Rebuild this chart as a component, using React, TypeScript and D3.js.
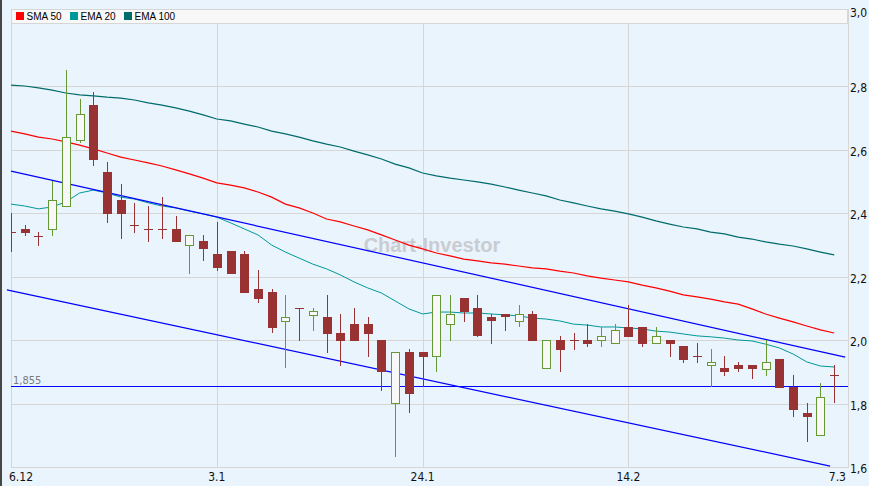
import React from "react";
import * as d3 from "d3";

// ---- data ----
const dateTickIdx = [0, 15, 30, 45, 60];
const dateTickLabels = ["6.12", "3.1", "24.1", "14.2", "7.3"];
const priceTicks = [1.6, 1.8, 2.0, 2.2, 2.4, 2.6, 2.8, 3.0];

const opens = [
  2.340, 2.350, 2.328, 2.350, 2.422, 2.630, 2.740, 2.529, 2.441, 2.362,
  2.350, 2.350, 2.350, 2.299, 2.312, 2.271, 2.280, 2.271, 2.161, 2.151,
  2.060, 2.101, 2.079, 2.072, 2.022, 2.050, 2.050, 2.000, 1.802, 1.962,
  1.962, 1.950, 2.050, 2.132, 2.101, 2.072, 2.082, 2.060, 2.082, 1.912,
  2.000, 2.000, 2.000, 2.000, 1.991, 2.041, 2.041, 1.991, 2.000, 1.981,
  1.950, 1.921, 1.912, 1.921, 1.921, 1.909, 1.940, 1.852, 1.770, 1.701,
  1.890,
];
const highs = [
  2.400, 2.362, 2.340, 2.501, 2.850, 2.759, 2.781, 2.561, 2.491, 2.431,
  2.422, 2.450, 2.391, 2.331, 2.331, 2.372, 2.280, 2.280, 2.220, 2.161,
  2.142, 2.101, 2.101, 2.142, 2.082, 2.101, 2.072, 2.000, 1.962, 1.972,
  1.962, 2.142, 2.142, 2.132, 2.142, 2.082, 2.082, 2.110, 2.091, 2.000,
  2.013, 2.022, 2.050, 2.041, 2.050, 2.110, 2.041, 2.041, 2.000, 1.981,
  1.991, 1.972, 1.950, 1.931, 1.921, 2.000, 1.940, 1.890, 1.802, 1.865,
  1.921,
];
const lows = [
  2.277, 2.328, 2.296, 2.328, 2.419, 2.620, 2.548, 2.369, 2.318, 2.337,
  2.309, 2.318, 2.309, 2.208, 2.249, 2.217, 2.208, 2.148, 2.117, 2.022,
  1.912, 1.997, 2.028, 1.959, 1.918, 1.997, 1.946, 1.839, 1.631, 1.770,
  1.852, 1.899, 1.997, 2.057, 2.009, 1.987, 2.028, 2.041, 1.997, 1.912,
  1.899, 1.969, 1.978, 1.978, 1.991, 2.013, 1.978, 1.991, 1.946, 1.928,
  1.928, 1.852, 1.887, 1.899, 1.877, 1.887, 1.852, 1.757, 1.679, 1.701,
  1.802,
];
const closes = [
  2.340, 2.340, 2.328, 2.441, 2.639, 2.712, 2.570, 2.400, 2.400, 2.362,
  2.350, 2.350, 2.312, 2.331, 2.290, 2.230, 2.211, 2.151, 2.132, 2.041,
  2.072, 2.101, 2.091, 2.022, 2.000, 2.000, 2.022, 1.902, 1.962, 1.833,
  1.950, 2.142, 2.082, 2.091, 2.016, 2.063, 2.076, 2.082, 2.000, 2.000,
  1.972, 2.000, 1.991, 2.013, 2.031, 2.013, 1.991, 2.013, 1.991, 1.940,
  1.950, 1.931, 1.902, 1.912, 1.912, 1.931, 1.852, 1.783, 1.761, 1.820,
  1.890,
];

const sma50 = [
  2.658, 2.649, 2.639, 2.633, 2.624, 2.614, 2.602, 2.589, 2.576, 2.567,
  2.558, 2.548, 2.536, 2.523, 2.510, 2.495, 2.488, 2.479, 2.466, 2.450,
  2.428, 2.416, 2.400, 2.381, 2.372, 2.359, 2.347, 2.331, 2.315, 2.299,
  2.287, 2.274, 2.265, 2.255, 2.249, 2.243, 2.239, 2.233, 2.227, 2.224,
  2.217, 2.211, 2.202, 2.195, 2.189, 2.183, 2.173, 2.164, 2.154, 2.142,
  2.136, 2.129, 2.120, 2.113, 2.098, 2.082, 2.069, 2.057, 2.044, 2.032,
  2.022,
];
const ema20 = [
  2.428, 2.422, 2.413, 2.419, 2.435, 2.463, 2.472, 2.463, 2.450, 2.444,
  2.432, 2.422, 2.416, 2.406, 2.397, 2.387, 2.369, 2.350, 2.331, 2.299,
  2.277, 2.258, 2.239, 2.224, 2.205, 2.183, 2.164, 2.148, 2.123, 2.098,
  2.082, 2.088, 2.088, 2.085, 2.085, 2.082, 2.079, 2.076, 2.069, 2.066,
  2.060, 2.050, 2.047, 2.041, 2.041, 2.038, 2.035, 2.028, 2.025, 2.019,
  2.013, 2.010, 2.006, 2.000, 1.997, 1.987, 1.975, 1.956, 1.931, 1.918,
  1.915,
];
const ema100 = [
  2.803, 2.800, 2.794, 2.787, 2.778, 2.772, 2.769, 2.765, 2.762, 2.756,
  2.747, 2.740, 2.731, 2.721, 2.709, 2.696, 2.690, 2.680, 2.671, 2.658,
  2.649, 2.639, 2.627, 2.617, 2.608, 2.595, 2.583, 2.570, 2.554, 2.542,
  2.526, 2.517, 2.510, 2.504, 2.498, 2.491, 2.482, 2.472, 2.463, 2.454,
  2.441, 2.432, 2.422, 2.413, 2.406, 2.397, 2.387, 2.375, 2.365, 2.356,
  2.350, 2.340, 2.334, 2.324, 2.318, 2.309, 2.302, 2.296, 2.287, 2.277,
  2.268,
];

// trend channel endpoints: [index, price]
const upperTrend = [[0, 2.532], [60.8, 1.946]];
const lowerTrend = [[-0.3, 2.158], [59.7, 1.603]];
const hLineValue = 1.855;
const hLineLabel = "1,855";

const legendNames = ["SMA 50", "EMA 20", "EMA 100"];
const legendColors = ["#ff0000", "#009999", "#006b6b"];

// ---- layout ----
const W = 869;
const H = 486;
const L = 11;
const R = 848;
const T = 23;
const B = 467;

const bg = "#eaf4fd";
const gridC = "#d6d6d6";
const red = "#993333";
const green = "#669933";
const narrow = "'Liberation Sans Narrow', 'Arial Narrow', 'DejaVu Sans Condensed', sans-serif";
const sans = "'Liberation Sans', Arial, sans-serif";

export default function App() {
  const x = d3.scaleLinear().domain([0, 60]).range([L, 834.2]);
  const y = d3.scaleLinear().domain([1.6, 3.0]).range([B, 22.5]);
  const line = d3
    .line<number>()
    .x((_, i) => x(i))
    .y((d) => y(d));
  const seg = d3
    .line<number[]>()
    .x((d) => x(d[0]))
    .y((d) => y(d[1]));

  const fmt = (v: number) => v.toFixed(1).replace(".", ",");
  const bw = 8;

  return (
    <svg
      width={W}
      height={H}
      style={{ position: "absolute", left: 0, top: 0, display: "block" }}
    >
      <defs>
        <clipPath id="plotClip">
          <rect x={L} y={T} width={R - L} height={B - T} />
        </clipPath>
      </defs>
      <rect x={0} y={0} width={W} height={H} fill={bg} />
      <rect x={0} y={0} width={2} height={H} fill="#474747" />

      {/* horizontal grid */}
      {priceTicks.map((t) => (
        <line
          key={"hg" + t}
          x1={L}
          x2={R}
          y1={Math.round(y(t)) + 0.5}
          y2={Math.round(y(t)) + 0.5}
          stroke={gridC}
        />
      ))}
      {/* vertical grid */}
      {dateTickIdx.slice(1, 4).map((i) => (
        <line
          key={"vg" + i}
          x1={Math.round(x(i)) + 0.5}
          x2={Math.round(x(i)) + 0.5}
          y1={T}
          y2={B}
          stroke={gridC}
        />
      ))}
      <line x1={L + 0.5} x2={L + 0.5} y1={T} y2={B + 1} stroke={gridC} />
      <line x1={R + 0.5} x2={R + 0.5} y1={9} y2={B + 1} stroke={gridC} />

      {/* watermark */}
      <text
        x={432}
        y={252}
        textAnchor="middle"
        fontFamily={sans}
        fontWeight="bold"
        fontSize={20}
        fill="#c9cdd1"
      >
        Chart-Investor
      </text>

      {/* moving averages */}
      <path d={line(ema100) || ""} fill="none" stroke={legendColors[2]} strokeWidth={1.2} />
      <path d={line(sma50) || ""} fill="none" stroke={legendColors[0]} strokeWidth={1.2} />
      <path d={line(ema20) || ""} fill="none" stroke={legendColors[1]} strokeWidth={1} />

      {/* trend lines */}
      <path d={seg(upperTrend) || ""} fill="none" stroke="#0000ff" strokeWidth={1.2} />
      <path d={seg(lowerTrend) || ""} fill="none" stroke="#0000ff" strokeWidth={1.2} />
      <line
        x1={L}
        x2={R}
        y1={Math.round(y(hLineValue)) + 0.5}
        y2={Math.round(y(hLineValue)) + 0.5}
        stroke="#0000ff"
        strokeWidth={1.2}
      />
      <text
        x={13}
        y={Math.round(y(hLineValue)) - 2}
        fontFamily={narrow}
        fontSize={11}
        fill="#7a7a7a"
      >
        {hLineLabel}
      </text>

      {/* candles */}
      <g clipPath="url(#plotClip)">
        {opens.map((o, i) => {
          const c = closes[i];
          const cx = Math.round(x(i)) + 0.5;
          const up = c > o;
          const col = up ? green : red;
          const top = Math.round(y(Math.max(o, c))) + 0.5;
          const bot = Math.round(y(Math.min(o, c))) + 0.5;
          return (
            <g key={"c" + i}>
              <line
                x1={cx}
                x2={cx}
                y1={Math.round(y(highs[i]))}
                y2={Math.round(y(lows[i]))}
                stroke={col}
              />
              {c === o ? (
                <line x1={cx - bw / 2 - 0.5} x2={cx + bw / 2 + 0.5} y1={top} y2={top} stroke={col} />
              ) : (
                <rect
                  x={cx - bw / 2}
                  y={top}
                  width={bw}
                  height={Math.max(1, bot - top)}
                  fill={up ? "#f8f8f8" : red}
                  stroke={col}
                  strokeWidth={1}
                />
              )}
            </g>
          );
        })}
      </g>

      {/* legend */}
      <rect x={11.5} y={9.5} width={836} height={14} fill="#f8f8f8" stroke="#d6d6d6" />
      {legendNames.map((n, k) => {
        const lx = [16, 70, 124][k];
        return (
          <g key={n}>
            <rect x={lx} y={12} width={8} height={8} fill={legendColors[k]} />
            <text x={lx + 10.5} y={20} fontFamily={sans} fontSize={10} fill="#000">
              {n}
            </text>
          </g>
        );
      })}

      {/* y-axis labels */}
      {priceTicks.map((t) => (
        <text
          key={"yl" + t}
          x={850}
          y={t === 3.0 ? 16.5 : Math.round(y(t)) + 5.5}
          fontFamily={narrow}
          fontSize={12}
          fill="#111"
        >
          {fmt(t)}
        </text>
      ))}

      {/* x-axis labels */}
      {dateTickIdx.map((i, k) => {
        const first = k === 0;
        const last = k === dateTickIdx.length - 1;
        return (
          <text
            key={"xl" + i}
            x={first ? 9 : last ? 846 : x(i)}
            y={481}
            textAnchor={first ? "start" : last ? "end" : "middle"}
            fontFamily={narrow}
            fontSize={12}
            fill="#111"
          >
            {dateTickLabels[k]}
          </text>
        );
      })}
    </svg>
  );
}
